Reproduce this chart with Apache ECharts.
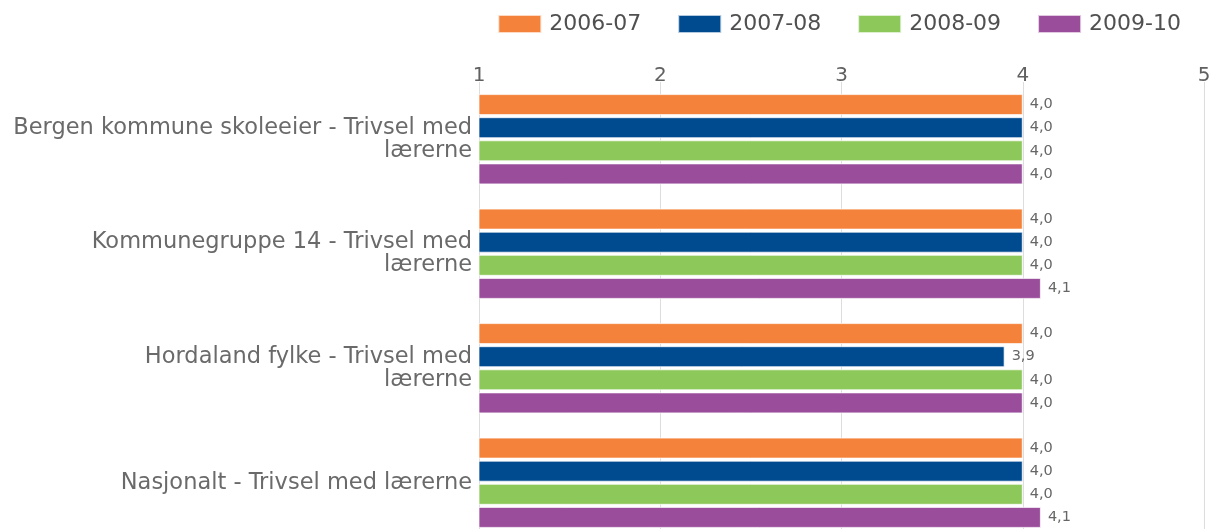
<!DOCTYPE html>
<html lang="no">
<head>
  <meta charset="UTF-8">
  <title>Trivsel med lærerne</title>
  <script src="https://cdn.jsdelivr.net/npm/echarts@6/dist/echarts.min.js"></script>
  <style>
    html, body { margin: 0; padding: 0; background: #fff; overflow: hidden; }
    /* diagrammet er høyere enn vinduet, nederste del er kuttet som i originalen */
    #chart { width: 1226px; height: 540px; }
  </style>
</head>
<body>
  <div id="chart"></div>
  <script>
    // kategorier (med linjeskift slik som i originalen)
    const categories = [
      'Bergen kommune skoleeier - Trivsel med\nlærerne',
      'Kommunegruppe 14 - Trivsel med\nlærerne',
      'Hordaland fylke - Trivsel med\nlærerne',
      'Nasjonalt - Trivsel med lærerne'
    ];
    const seriesNames = ['2006-07', '2007-08', '2008-09', '2009-10'];
    const v2006 = [4.0, 4.0, 4.0, 4.0];
    const v2007 = [4.0, 4.0, 3.9, 4.0];
    const v2008 = [4.0, 4.0, 4.0, 4.0];
    const v2009 = [4.0, 4.1, 4.0, 4.1];
    const colors = ['#F5823A', '#004A8F', '#8DC85A', '#9A4D9B'];

    const font = 'DejaVu Sans';
    const chart = echarts.init(document.getElementById('chart'));

    const series = [v2006, v2007, v2008, v2009].map((vals, i) => ({
      name: seriesNames[i],
      type: 'bar',
      data: vals,
      barWidth: 21,
      barGap: '10%',
      itemStyle: { color: colors[i], borderColor: 'rgba(255,255,255,0.7)', borderWidth: 1 },
      label: {
        show: true,
        position: 'right',
        distance: 7,
        color: '#666',
        fontFamily: font,
        fontSize: 14.5,
        formatter: p => p.value.toFixed(1).replace('.', ',')
      }
    }));

    chart.setOption({
      animation: false,
      color: colors,
      legend: {
        data: seriesNames,
        top: 8,
        right: 40,
        itemWidth: 43,
        itemHeight: 18,
        itemGap: 36,
        icon: 'rect',
        textStyle: { fontFamily: font, fontSize: 22, color: '#505050', padding: [0, 0, 0, 3] }
      },
      grid: { left: 479, right: 22, top: 82, bottom: 0 },
      xAxis: {
        type: 'value',
        position: 'top',
        min: 1,
        max: 5,
        interval: 1,
        axisLine: { show: false },
        axisTick: { show: false },
        axisLabel: { fontFamily: font, fontSize: 20, color: '#606060', margin: -4 },
        splitLine: { lineStyle: { color: '#ddd', width: 1 } }
      },
      yAxis: {
        type: 'category',
        data: categories,
        inverse: true,
        axisLine: { show: false },
        axisTick: { show: false },
        axisLabel: { fontFamily: font, fontSize: 22.5, color: '#6a6a6a', margin: 7, lineHeight: 23 }
      },
      series: series
    });
  </script>
</body>
</html>
